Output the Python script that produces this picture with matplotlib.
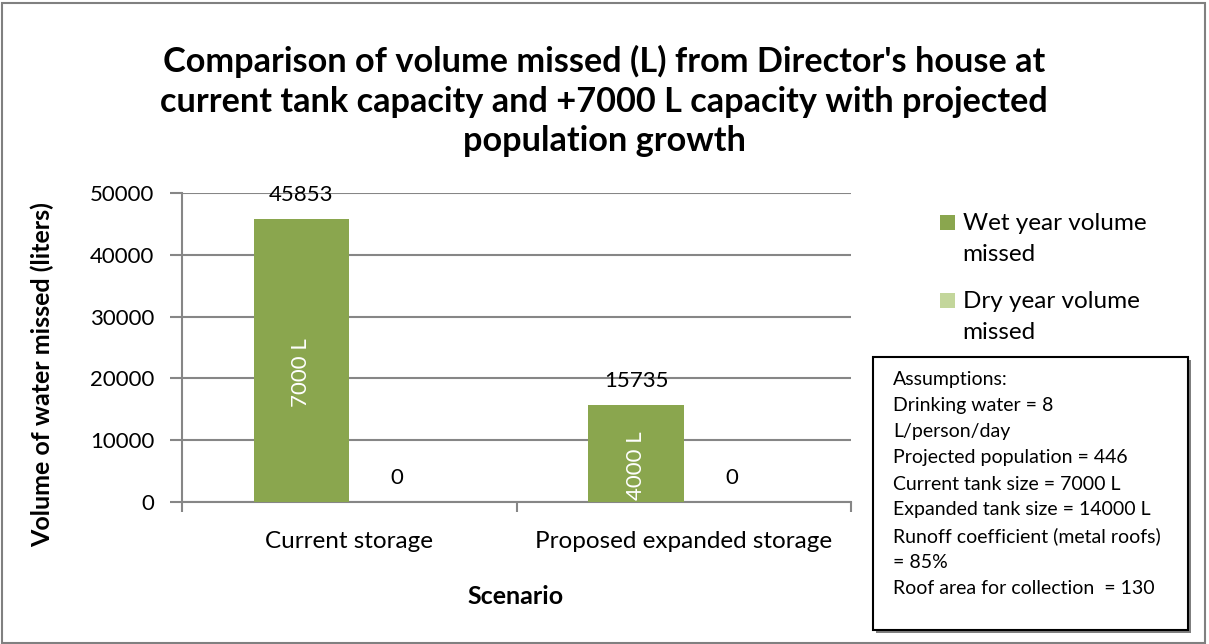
import matplotlib
matplotlib.use("Agg")
import matplotlib.pyplot as plt
from matplotlib.patches import Rectangle
from matplotlib.legend_handler import HandlerPatch
import numpy as np

# chart data
categories = ["Current storage", "Proposed expanded storage"]
wet_missed = [45853, 15735]
dry_missed = [0, 0]
bar_notes = ["7000 L", "4000 L"]
note_y = [21000, 5800]
series_labels = ["Wet year volume\nmissed", "Dry year volume\nmissed"]
assumptions = [
    "Assumptions:",
    "Drinking water = 8",
    "L/person/day",
    "Projected population = 446",
    "Current tank size = 7000 L",
    "Expanded tank size = 14000 L",
    "Runoff coefficient (metal roofs)",
    "= 85%",
    "Roof area for collection  = 130",
]

plt.rcParams['font.family'] = ['Lato', 'DejaVu Sans']

W, H = 1209, 644
fig = plt.figure(figsize=(W / 100, H / 100), dpi=100)

def fx(px):
    return px / W

def fy(py):
    return 1 - py / H

# plot area in pixels: x 182..851, y 193..502
ax = fig.add_axes([fx(182), fy(502), fx(851 - 182), (502 - 193) / H])

wet_col = "#8AA64E"
dry_col = "#C3D69B"
grid_col = "#868686"

x = np.arange(len(categories))
w = 0.2857
b1 = ax.bar(x - w / 2, wet_missed, w, color=wet_col, label=series_labels[0], zorder=3)
b2 = ax.bar(x + w / 2, dry_missed, w, color=dry_col, label=series_labels[1], zorder=3)

for rect, v in zip(list(b1) + list(b2), wet_missed + dry_missed):
    ax.annotate(str(v), (rect.get_x() + rect.get_width() / 2, v),
                xytext=(0, 17), textcoords="offset points",
                ha="center", va="center", fontsize=16, zorder=4)

for rect, note, ny in zip(b1, bar_notes, note_y):
    t = ax.text(rect.get_x() + rect.get_width() / 2, ny, note, rotation=90,
                ha="center", va="center", color="white", fontsize=16, zorder=4)
    t.set_clip_on(True)

ax.set_xlim(-0.5, 1.5)
ax.set_ylim(0, 50000)
ax.set_yticks(range(0, 50001, 10000))
ax.yaxis.grid(True, color=grid_col, linewidth=1.5, zorder=0)
ax.set_xticks(x)
ax.set_xticklabels(categories, fontsize=17.5)
ax.set_xticks([-0.5, 0.5, 1.5], minor=True)
ax.tick_params(axis="x", which="major", length=0, pad=21)
ax.tick_params(axis="x", which="minor", length=7, width=1.5, color=grid_col)
ax.tick_params(axis="y", length=9, width=1.5, color=grid_col, labelsize=16, pad=11)
for s in ["top", "right"]:
    ax.spines[s].set_visible(False)
for s in ["left", "bottom"]:
    ax.spines[s].set_color(grid_col)
    ax.spines[s].set_linewidth(1.5)

fig.text(fx(42), fy(375), "Volume of water missed (liters)", rotation=90,
         ha="center", va="center", fontsize=18, fontweight="bold")
fig.text(fx(516), fy(597), "Scenario", ha="center", va="center",
         fontsize=18, fontweight="bold")

fig.text(fx(604), fy(101),
         "Comparison of volume missed (L) from Director's house at\n"
         "current tank capacity and +7000 L capacity with projected\n"
         "population growth",
         ha="center", va="center", fontsize=24.7, fontweight="bold", linespacing=1.3)

# square legend key aligned with the first line of a two-line label
def top_square(legend, orig_handle, xdescent, ydescent, width, height, fontsize):
    side = 0.62 * fontsize
    return Rectangle((-xdescent, -ydescent + height - side - 0.05 * fontsize), side, side)

leg = fig.legend(handles=[b1[0], b2[0]], labels=series_labels, loc="upper left",
                 bbox_to_anchor=(fx(928), fy(201)),
                 frameon=False, fontsize=17.5, handlelength=0.62, handleheight=3.0,
                 handletextpad=0.3, labelspacing=0.97, borderpad=0,
                 handler_map={Rectangle: HandlerPatch(patch_func=top_square)})
for t in leg.get_texts():
    t.set_linespacing(1.6)

# assumptions box
fig.add_artist(Rectangle((fx(876), fy(633)), fx(1188 - 873), (630 - 357) / H,
                         transform=fig.transFigure, facecolor="#7f7f7f",
                         edgecolor="none"))
fig.add_artist(Rectangle((fx(873), fy(630)), fx(1188 - 873), (630 - 357) / H,
                         transform=fig.transFigure, facecolor="white",
                         edgecolor="black", linewidth=1.5))
for i, line in enumerate(assumptions):
    fig.text(fx(893), fy(380 + i * 26), line, ha="left", va="center", fontsize=14)

# outer border
fig.add_artist(Rectangle((0.002, 0.002), 0.995, 0.993, transform=fig.transFigure,
                         facecolor="none", edgecolor="#808080", linewidth=1.5))

fig.savefig("out.png", dpi=100)
